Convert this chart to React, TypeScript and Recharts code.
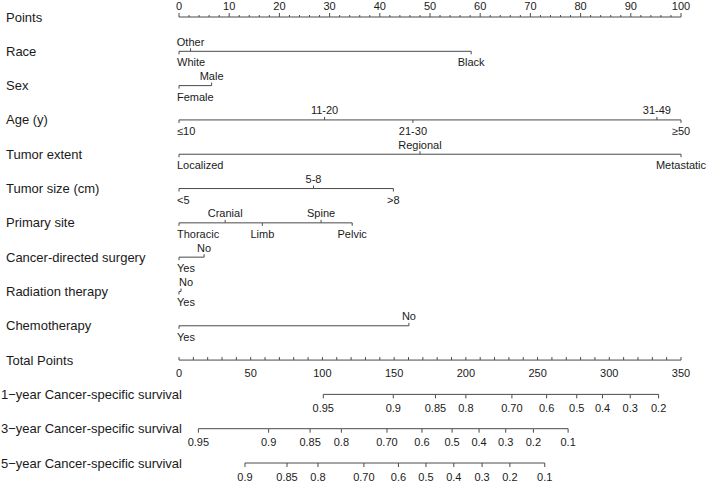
import { ComposedChart, Scatter, XAxis, YAxis } from 'recharts'

const ROW_NAMES = [
  'Points',
  'Race',
  'Sex',
  'Age (y)',
  'Tumor extent',
  'Tumor size (cm)',
  'Primary site',
  'Cancer-directed surgery',
  'Radiation therapy',
  'Chemotherapy',
  'Total Points',
  '1−year Cancer-specific survival',
  '3−year Cancer-specific survival',
  '5−year Cancer-specific survival',
]

const POINTS_LABELS = [0, 10, 20, 30, 40, 50, 60, 70, 80, 90, 100]
const TOTAL_LABELS = [0, 50, 100, 150, 200, 250, 300, 350]

const RACE_LABELS = ['White', 'Other', 'Black']
const RACE_POINTS = [0, 2.3, 58.2]
const RACE_SIDE = ['below', 'above', 'below']

const SEX_LABELS = ['Female', 'Male']
const SEX_POINTS = [0, 6.5]
const SEX_SIDE = ['below', 'above']

const AGE_LABELS = ['≤10', '11-20', '21-30', '31-49', '≥50']
const AGE_POINTS = [0, 29, 46.6, 95.2, 100]
const AGE_SIDE = ['below', 'above', 'below', 'above', 'below']

const EXTENT_LABELS = ['Localized', 'Regional', 'Metastatic']
const EXTENT_POINTS = [0, 48, 100]
const EXTENT_SIDE = ['below', 'above', 'below']

const SIZE_LABELS = ['<5', '5-8', '>8']
const SIZE_POINTS = [0, 26.8, 42.7]
const SIZE_SIDE = ['below', 'above', 'below']

const SITE_LABELS = ['Thoracic', 'Cranial', 'Limb', 'Spine', 'Pelvic']
const SITE_POINTS = [0, 9.2, 16.6, 28.3, 34.5]
const SITE_SIDE = ['below', 'above', 'below', 'above', 'below']

const SURGERY_LABELS = ['Yes', 'No']
const SURGERY_POINTS = [0, 5]
const SURGERY_SIDE = ['below', 'above']

const RADIATION_LABELS = ['Yes', 'No']
const RADIATION_POINTS = [0, 0.4]
const RADIATION_SIDE = ['below', 'above']

const CHEMO_LABELS = ['Yes', 'No']
const CHEMO_POINTS = [0, 45.8]
const CHEMO_SIDE = ['below', 'above']

// survival scales: labels and their position in total points
const S1_LABELS = ['0.95', '0.9', '0.85', '0.8', '0.70', '0.6', '0.5', '0.4', '0.3', '0.2']
const S1_TOTAL = [100.6, 149.4, 178.8, 200.0, 232.1, 256.3, 277.3, 295.3, 314.6, 334.4]

const S3_LABELS = ['0.95', '0.9', '0.85', '0.8', '0.70', '0.6', '0.5', '0.4', '0.3', '0.2', '0.1']
const S3_TOTAL = [13.5, 62.5, 91.4, 113.2, 145.0, 169.4, 190.4, 209.2, 227.8, 247.1, 271.3]

const S5_LABELS = ['0.9', '0.85', '0.8', '0.70', '0.6', '0.5', '0.4', '0.3', '0.2', '0.1']
const S5_TOTAL = [46.0, 75.3, 96.9, 128.9, 153.0, 172.2, 191.6, 211.3, 230.7, 255.0]

const TOTAL_MAX = 350
const LINE = '#4a4a4a'
const TEXT = '#1a1a1a'
const FONT = '"Liberation Sans", Arial, Helvetica, sans-serif'

interface Mark {
  x: number
  y: number
  label: string
  dir: number
  len: number
  dy: number
  anchor: string
}

// labels sitting on (or right next to) the left end are left-aligned, as in R
function variableRow(row: number, labels: string[], points: number[], side: string[]): Mark[] {
  return labels.map((label, i) => {
    const above = side[i] === 'above'
    return {
      x: points[i],
      y: row,
      label,
      dir: above ? -1 : 1,
      len: 3,
      dy: above ? -9.5 : 11,
      anchor: points[i] < 1 ? 'start' : 'middle',
    }
  })
}

function pointsRow(): Mark[] {
  const out: Mark[] = []
  for (let v = 0; v <= 100; v += 2) {
    const major = POINTS_LABELS.includes(v)
    out.push({ x: v, y: 0, label: major ? String(v) : '', dir: -1, len: major ? 4 : 2, dy: -11.5, anchor: 'middle' })
  }
  return out
}

function totalRow(): Mark[] {
  const out: Mark[] = []
  for (let v = 0; v <= TOTAL_MAX; v += 10) {
    const major = TOTAL_LABELS.includes(v)
    out.push({ x: (v / TOTAL_MAX) * 100, y: 10, label: major ? String(v) : '', dir: -1, len: 3, dy: 13, anchor: 'middle' })
  }
  return out
}

function survivalRow(row: number, labels: string[], total: number[]): Mark[] {
  return labels.map((label, i) => ({
    x: (total[i] / TOTAL_MAX) * 100,
    y: row,
    label,
    dir: 1,
    len: 4,
    dy: 13.5,
    anchor: 'middle',
  }))
}

const ROWS: Mark[][] = [
  pointsRow(),
  variableRow(1, RACE_LABELS, RACE_POINTS, RACE_SIDE),
  variableRow(2, SEX_LABELS, SEX_POINTS, SEX_SIDE),
  variableRow(3, AGE_LABELS, AGE_POINTS, AGE_SIDE),
  variableRow(4, EXTENT_LABELS, EXTENT_POINTS, EXTENT_SIDE),
  variableRow(5, SIZE_LABELS, SIZE_POINTS, SIZE_SIDE),
  variableRow(6, SITE_LABELS, SITE_POINTS, SITE_SIDE),
  variableRow(7, SURGERY_LABELS, SURGERY_POINTS, SURGERY_SIDE),
  variableRow(8, RADIATION_LABELS, RADIATION_POINTS, RADIATION_SIDE),
  variableRow(9, CHEMO_LABELS, CHEMO_POINTS, CHEMO_SIDE),
  totalRow(),
  survivalRow(11, S1_LABELS, S1_TOTAL),
  survivalRow(12, S3_LABELS, S3_TOTAL),
  survivalRow(13, S5_LABELS, S5_TOTAL),
]

function TickMark(props: any) {
  const { cx, cy, payload } = props
  const m = payload as Mark
  const tx = m.anchor === 'start' ? Math.max(cx - 2, 177) : cx
  return (
    <g>
      <line x1={cx} x2={cx} y1={cy} y2={cy + m.dir * m.len} stroke={LINE} strokeWidth={1} />
      {m.label && (
        <text
          x={tx}
          y={cy + m.dy}
          textAnchor={m.anchor}
          dominantBaseline="central"
          fontSize={11}
          fontFamily={FONT}
          fill={TEXT}
        >
          {m.label}
        </text>
      )}
    </g>
  )
}

function RowLabel(props: any) {
  const { y, payload } = props
  const idx = payload.value as number
  return (
    <text
      x={idx >= 11 ? 1 : 6}
      y={y}
      dominantBaseline="central"
      fontSize={13}
      fontFamily={FONT}
      fill={TEXT}
    >
      {ROW_NAMES[idx]}
    </text>
  )
}

export default function App() {
  return (
    <div style={{ position: 'absolute', left: 0, top: 0, background: '#fff' }}>
      <ComposedChart width={709} height={481} margin={{ top: 17, right: 28, bottom: 18, left: 0 }}>
        <XAxis type="number" dataKey="x" domain={[0, 100]} hide />
        <YAxis
          type="number"
          dataKey="y"
          domain={[0, 13]}
          reversed
          ticks={ROW_NAMES.map((_, i) => i)}
          interval={0}
          width={179}
          axisLine={false}
          tickLine={false}
          tick={<RowLabel />}
        />
        {ROWS.map((data, i) => (
          <Scatter
            key={i}
            data={data}
            line={{ stroke: LINE, strokeWidth: 1 }}
            shape={<TickMark />}
            isAnimationActive={false}
          />
        ))}
      </ComposedChart>
    </div>
  )
}
